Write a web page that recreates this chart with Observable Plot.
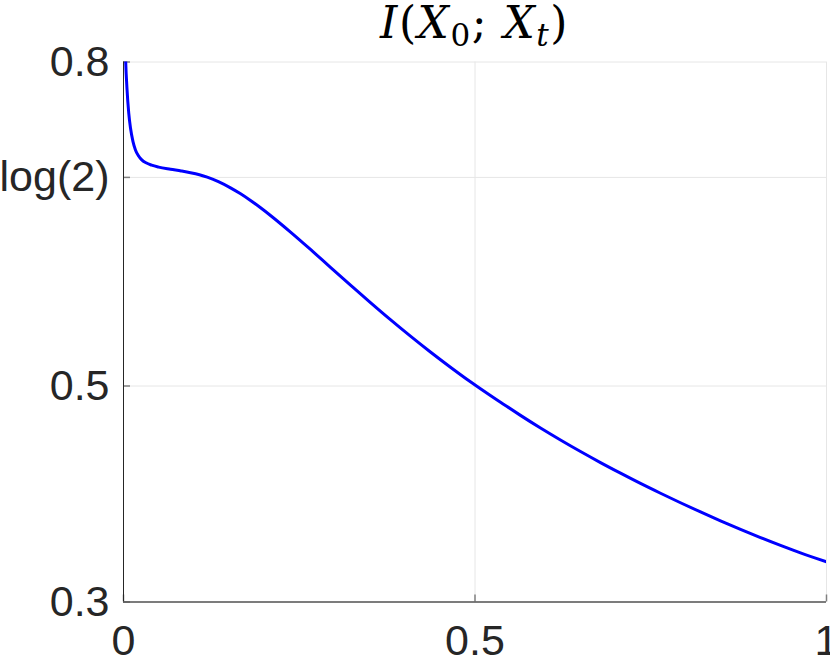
<!DOCTYPE html>
<html>
<head>
<meta charset="utf-8">
<script src="https://cdn.jsdelivr.net/npm/d3@7"></script>
<script src="https://cdn.jsdelivr.net/npm/@observablehq/plot@0.6"></script>
<style>
  html, body { margin: 0; padding: 0; background: white; }
</style>
</head>
<body>
<div id="chart"></div>
<script>
// Curve values
const tValues = [0.0015, 0.0030, 0.0050, 0.0075, 0.0100, 0.0135, 0.0170, 0.0210, 0.0260, 0.0320, 0.0400, 0.0500, 0.0669, 0.0820, 0.0953, 0.1080, 0.1191, 0.1350, 0.1522, 0.1660, 0.1807, 0.1950, 0.2091, 0.2376, 0.2660, 0.2944, 0.3229, 0.3513, 0.3797, 0.4082, 0.4366, 0.4651, 0.4935, 0.5219, 0.5363, 0.5647, 0.5932, 0.6216, 0.6501, 0.6785, 0.7070, 0.7354, 0.7639, 0.7923, 0.8208, 0.8492, 0.8777, 0.9061, 0.9346, 0.9630, 1.0];
const miValues = [0.845, 0.8029, 0.7749, 0.7524, 0.7386, 0.7263, 0.7186, 0.7134, 0.7094, 0.7067, 0.7045, 0.7027, 0.7007, 0.6991, 0.6975, 0.6956, 0.6934, 0.6892, 0.6835, 0.6782, 0.6718, 0.6650, 0.6579, 0.6425, 0.6264, 0.6099, 0.5935, 0.5773, 0.5615, 0.5462, 0.5315, 0.5174, 0.5039, 0.4912, 0.4850, 0.4728, 0.4611, 0.4500, 0.4393, 0.4291, 0.4193, 0.4098, 0.4007, 0.3919, 0.3834, 0.3752, 0.3673, 0.3597, 0.3524, 0.3455, 0.3372];

const xTicks = [0, 0.5, 1];
const xTickLabels = ["0", "0.5", "1"];
const yTicks = [0.3, 0.5, Math.log(2), 0.8];
const yTickLabels = ["0.3", "0.5", "log(2)", "0.8"];

const data = tValues.map((t, i) => ({t, v: miValues[i]}));
const xLabelMap = new Map(xTicks.map((d, i) => [d, xTickLabels[i]]));
const yLabelMap = new Map(yTicks.map((d, i) => [d, yTickLabels[i]]));

const plot = Plot.plot({
  width: 830,
  height: 661,
  marginLeft: 123,
  marginRight: 4,
  marginTop: 61.5,
  marginBottom: 59.5,
  x: {domain: [0, 1]},
  y: {domain: [0.3, 0.8]},
  style: {fontFamily: "'Liberation Sans', Arial, sans-serif", fontSize: "43px", color: "#262626", background: "white"},
  marks: [
    Plot.gridX(xTicks, {stroke: "#e6e6e6", strokeOpacity: 1}),
    Plot.gridY(yTicks, {stroke: "#e6e6e6", strokeOpacity: 1}),
    Plot.axisY(yTicks, {tickFormat: d => yLabelMap.get(d), tickSize: 0, tickPadding: 14, label: null, fontSize: 43, fill: "#262626"}),
    Plot.axisX(xTicks, {tickFormat: d => xLabelMap.get(d), tickSize: 0, tickPadding: 22, label: null, fontSize: 43, fill: "#262626"}),
    // inward tick marks (MATLAB style)
    Plot.ruleY(yTicks, {x1: 0, x2: 0.01, stroke: "#808080", strokeWidth: 1.5}),
    Plot.ruleX(xTicks, {y1: 0.3, y2: 0.3065, stroke: "#808080", strokeWidth: 1.5}),
    Plot.ruleX([0], {stroke: "#262626", strokeWidth: 1}),
    Plot.ruleY([0.3], {stroke: "#555555", strokeWidth: 1.3}),
    Plot.line(data, {x: "t", y: "v", stroke: "#0000ff", strokeWidth: 3, curve: "monotone-x", clip: true})
  ]
});

// Title with sub-scripts (real text)
const svg = d3.select(plot);
const xs = plot.scale("x");
const title = svg.append("text")
  .attr("x", xs.apply(0.5))
  .attr("y", 38)
  .attr("text-anchor", "middle")
  .attr("font-family", "'DejaVu Serif', 'Liberation Serif', serif")
  .attr("font-size", 44)
  .attr("letter-spacing", 1.5)
  .attr("fill", "#000");
title.append("tspan").attr("font-style", "italic").text("I");
title.append("tspan").text("(");
title.append("tspan").attr("font-style", "italic").text("X");
title.append("tspan").attr("font-size", 31).attr("dy", 8).text("0");
title.append("tspan").attr("dy", -8).text("; ");
title.append("tspan").attr("font-style", "italic").text("X");
title.append("tspan").attr("font-style", "italic").attr("font-size", 31).attr("dy", 8).text("t");
title.append("tspan").attr("dy", -8).text(")");

document.getElementById("chart").appendChild(plot);
</script>
</body>
</html>
